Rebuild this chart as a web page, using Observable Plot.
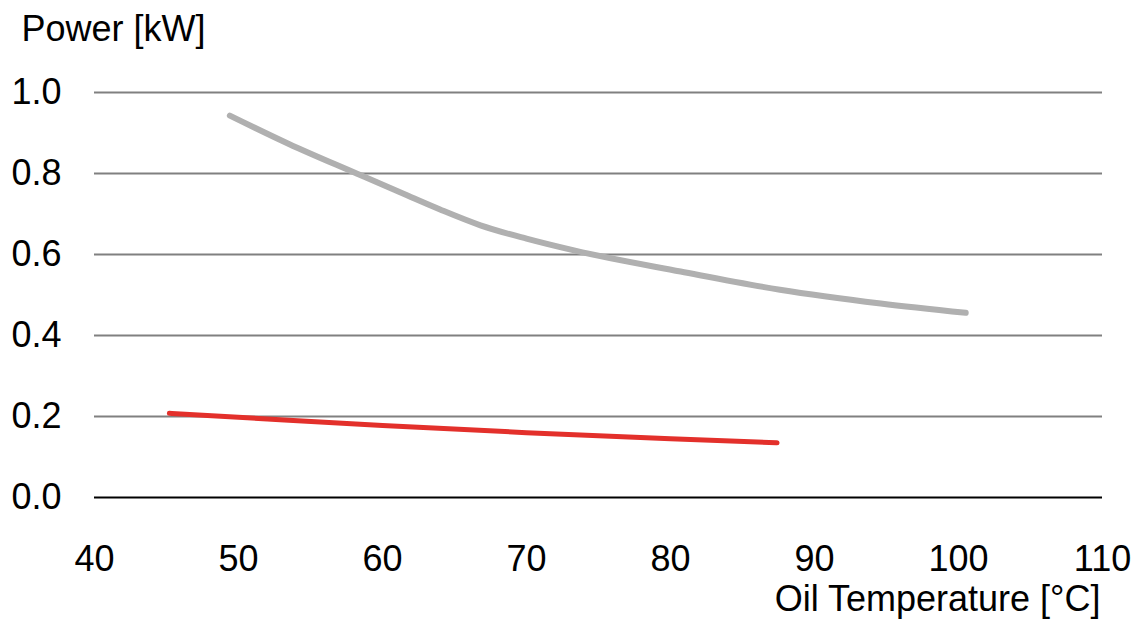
<!DOCTYPE html>
<html>
<head>
<meta charset="utf-8">
<script src="https://cdn.jsdelivr.net/npm/d3@7"></script>
<script src="https://cdn.jsdelivr.net/npm/@observablehq/plot@0.6"></script>
<style>
  html, body { margin: 0; padding: 0; background: #fff; }
  #chart svg { display: block; }
</style>
</head>
<body>
<div id="chart"></div>
<script>
const grayTemp = [49.4, 53.5, 58.2, 61.7, 64.0, 66.8, 70.0, 73.3, 80.7, 87.6, 94.6, 100.5];
const grayPower = [0.943, 0.873, 0.800, 0.746, 0.711, 0.672, 0.639, 0.610, 0.558, 0.513, 0.479, 0.456];
const redTemp = [45.2, 52, 60, 70, 80, 87.4];
const redPower = [0.208, 0.194, 0.178, 0.160, 0.145, 0.135];
const xTicks = [40, 50, 60, 70, 80, 90, 100, 110];
const yTicks = [0.0, 0.2, 0.4, 0.6, 0.8, 1.0];
const yTitle = "Power [kW]";
const xTitle = "Oil Temperature [°C]";

const gray = grayTemp.map((t, i) => ({t, p: grayPower[i]}));
const red = redTemp.map((t, i) => ({t, p: redPower[i]}));

const font = "'Liberation Sans', Arial, sans-serif";

const chart = Plot.plot({
  width: 1136,
  height: 624,
  marginLeft: 94,
  marginRight: 34,
  marginTop: 92,
  marginBottom: 127,
  style: {fontFamily: font, fontSize: "36px", color: "#000", background: "#fff"},
  x: {domain: [40, 110], label: null},
  y: {domain: [0, 1], label: null},
  marks: [
    Plot.ruleY(yTicks.filter(d => d > 0), {stroke: "#808080", strokeWidth: 2}),
    Plot.ruleY([0], {stroke: "#000", strokeWidth: 2}),
    Plot.line(gray, {x: "t", y: "p", stroke: "#b0b0b0", strokeWidth: 6, curve: "monotone-x"}),
    Plot.line(red, {x: "t", y: "p", stroke: "#e3302b", strokeWidth: 5, curve: "monotone-x"}),
    Plot.axisX({ticks: xTicks, tickSize: 0, tickPadding: 48, tickFormat: d => String(d), label: null, fontSize: 36, fill: "#000"}),
    Plot.axisY({ticks: yTicks, tickSize: 0, tickPadding: 33, tickFormat: d => d.toFixed(1), label: null, fontSize: 36, fill: "#000"}),
    Plot.text([yTitle], {frameAnchor: "top-left", text: d => d, dx: -73, dy: -77, lineAnchor: "top", fontSize: 36, textAnchor: "start", fill: "#000"}),
    Plot.text([xTitle], {frameAnchor: "bottom-right", text: d => d, dx: -2, dy: 88, lineAnchor: "top", fontSize: 36, textAnchor: "end", fill: "#000"})
  ]
});
document.getElementById("chart").appendChild(chart);
</script>
</body>
</html>
